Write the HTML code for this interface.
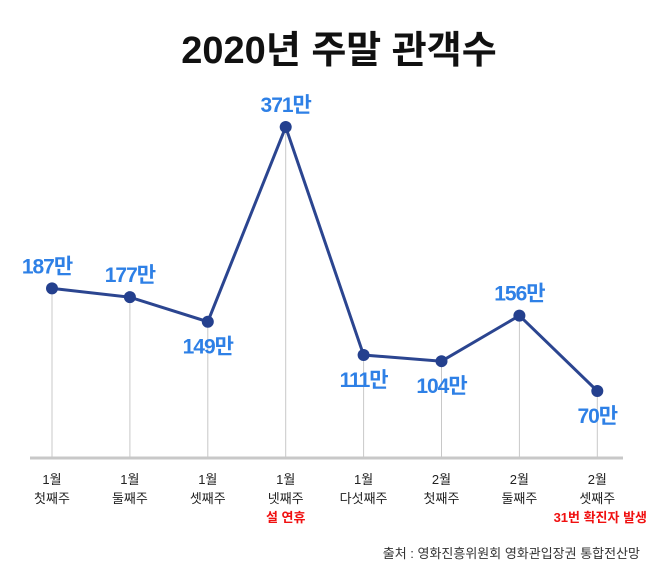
<!DOCTYPE html>
<html><head><meta charset="utf-8"><style>
body{margin:0;background:#fff;font-family:"Liberation Sans","Noto Sans CJK KR",sans-serif}
svg{display:block}
</style></head><body>
<svg width="658" height="580">
<text x="339" y="63" text-anchor="middle" font-size="38" font-weight="bold" fill="#111" font-family="Liberation Sans,Noto Sans CJK KR,sans-serif">2020년 주말 관객수</text>
<line x1="30" y1="458" x2="623" y2="458" stroke="#c8c8c8" stroke-width="3"/>
<g id="g"></g>
<text x="640" y="558" text-anchor="end" font-size="13" fill="#333" font-family="Liberation Sans,Noto Sans CJK KR,sans-serif">출처 : 영화진흥위원회 영화관입장권 통합전산망</text>
</svg>
<script>
const months=["1월","1월","1월","1월","1월","2월","2월","2월"];
const weeks=["첫째주","둘째주","셋째주","넷째주","다섯째주","첫째주","둘째주","셋째주"];
const notes=["","","","설 연휴","","","","31번 확진자 발생"];
const values=[187,177,149,371,111,104,156,70];
const labelPos=["above","above","below","above","below","below","above","below"];
const NS="http://www.w3.org/2000/svg";
const g=document.getElementById("g");
const x=i=>52+i*77.9;
const y=v=>452.4-v*0.877;
function mk(t,a){const e=document.createElementNS(NS,t);for(const k in a)e.setAttribute(k,a[k]);g.appendChild(e);return e;}
const F="Liberation Sans,Noto Sans CJK KR,sans-serif";
values.forEach((v,i)=>{
 const l=mk("line",{x1:x(i),y1:y(v),x2:x(i),y2:457,stroke:"#c8c8c8","stroke-width":1});
 
 
});
const p=mk("polyline",{points:values.map((v,i)=>x(i)+","+y(v)).join(" "),fill:"none",stroke:"#2b4590","stroke-width":3});


values.forEach((v,i)=>{
 const c=mk("circle",{cx:x(i),cy:y(v),r:6,fill:"#24408e"});
 
 
 const ty=labelPos[i]=="above"?y(v)-15:y(v)+32;
 const t=mk("text",{x:x(i)+(i==0?-5:0),y:ty,"text-anchor":"middle","font-size":21,"font-weight":"bold",fill:"#2e80e6","font-family":F,"letter-spacing":"-1"});
 t.textContent=v+"만";
 
 
 const m=mk("text",{x:x(i),y:484,"text-anchor":"middle","font-size":13,fill:"#222","font-family":F});
 m.textContent=months[i];
 
 
 const w=mk("text",{x:x(i),y:503,"text-anchor":"middle","font-size":13,fill:"#222","font-family":F});
 w.textContent=weeks[i];
 
 
 if(notes[i]){
  const n=mk("text",{x:i==7?x(i)+3:x(i),y:522,"text-anchor":"middle","font-size":13,"font-weight":"bold",fill:"#f01010","font-family":F});
  n.textContent=notes[i];
  
  
 }
});
</script>
</body></html>
